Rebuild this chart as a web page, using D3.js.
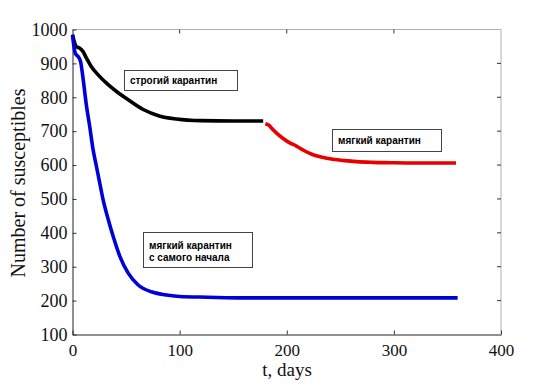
<!DOCTYPE html>
<html><head><meta charset="utf-8">
<script src="https://cdn.jsdelivr.net/npm/d3@7"></script>
<style>body{margin:0;background:#fff}svg{display:block}.tick text{font-family:'Liberation Serif','Times New Roman',serif}</style>
</head><body>
<svg id="c" width="554" height="385"></svg>
<script>
// Data
const strictT = [0,3.5,6.7,9.8,12.9,17.5,23.7,33,42,51,66,81,97,120,150,178];
const strictV = [985,950,945,935,916,891,867,838,815,795,764,745,736,731,730,730];
const softT = [0,2.6,5,7.5,9.8,12.9,16,19.3,22.4,25.5,28.6,33.3,38,44.3,52,61.3,73.7,86,100,126,160,220,300,359.5];
const softV = [984,930,921,906,857,778,715,644,595,546,497,440,389,330,281,246,226,217,212,210,208,208,208,208];
const lateT = [180,183,187,191,196,202,209,216,224,233,243,254,265,280,296,320,340,358];
const lateV = [722,718,705,693,680,667,656,643,631,623,617,613,610,608,607,606,606,606];
const xTicks = [0,100,200,300,400];
const yTicks = [100,200,300,400,500,600,700,800,900,1000];
const labels = [
  {lines:["строгий карантин"], x:124, y:70, w:113, h:20},
  {lines:["мягкий карантин"], x:332, y:129, w:109, h:22},
  {lines:["мягкий карантин","с самого начала"], x:143, y:232, w:109, h:35}
];

const svg = d3.select("#c");
const x = d3.scaleLinear().domain([0,400]).range([72.5,501]);
const y = d3.scaleLinear().domain([100,1000]).range([334.5,29.5]);
const serif = "'Liberation Serif','Times New Roman',serif";

// frame top/right
svg.append("line").attr("x1",x(0)).attr("x2",x(400)).attr("y1",y(1000)).attr("y2",y(1000)).attr("stroke","#b0b0b0");
svg.append("line").attr("x1",x(400)).attr("x2",x(400)).attr("y1",y(1000)).attr("y2",y(100)).attr("stroke","#b0b0b0");
// mirrored ticks
svg.append("g").selectAll("line").data(xTicks.slice(1,-1)).join("line")
  .attr("x1",d=>x(d)).attr("x2",d=>x(d)).attr("y1",y(1000)).attr("y2",y(1000)+4).attr("stroke","#333");
svg.append("g").selectAll("line").data(yTicks.slice(1,-1)).join("line")
  .attr("x1",x(400)).attr("x2",x(400)-4).attr("y1",d=>y(d)).attr("y2",d=>y(d)).attr("stroke","#333");

const gx = svg.append("g").attr("transform",`translate(0,${y(100)})`)
  .call(d3.axisBottom(x).tickValues(xTicks).tickFormat(d3.format("d")).tickSizeInner(-4).tickSizeOuter(0).tickPadding(9));
const gy = svg.append("g").attr("transform",`translate(${x(0)},0)`)
  .call(d3.axisLeft(y).tickValues(yTicks).tickFormat(d3.format("d")).tickSizeInner(-4).tickSizeOuter(0).tickPadding(5));
[gx,gy].forEach(g=>{
  g.attr("font-family",serif).attr("font-size",null);
  g.select(".domain").attr("stroke","#222");
  g.selectAll(".tick line").attr("stroke","#333");
  g.selectAll("text").attr("font-family",serif).style("font-family",serif).attr("fill","#111");
});
gx.selectAll("text").style("font-size","17px");
gy.selectAll("text").style("font-size","18px");

const line = d3.line().x(d=>x(d[0])).y(d=>y(d[1])).curve(d3.curveMonotoneX);
function draw(T,V,color){
  svg.append("path").datum(d3.zip(T,V)).attr("d",line)
    .attr("fill","none").attr("stroke",color).attr("stroke-width",3.6)
    .attr("stroke-linejoin","round").attr("stroke-linecap","butt");
}
draw(strictT,strictV,"#000");
draw(softT,softV,"#0000d8");
draw(lateT,lateV,"#e80000");

// label boxes
labels.forEach(l=>{
  svg.append("rect").attr("x",l.x+0.5).attr("y",l.y+0.5).attr("width",l.w).attr("height",l.h)
    .attr("fill","#fff").attr("stroke","#444").attr("stroke-width",1);
  l.lines.forEach((t,i)=>{
    svg.append("text").attr("x",l.x+6).attr("y",l.y+ (l.lines.length>1 ? 16.5+i*12 : l.h/2+4))
      .style("font-family","'Liberation Sans',Arial,sans-serif").style("font-weight","bold")
      .style("font-size","10px").attr("fill","#000").text(t);
  });
});

// axis titles
svg.append("text").attr("x",287).attr("y",376).attr("text-anchor","middle")
  .style("font-family",serif).style("font-size","19px").attr("fill","#111").text("t, days");
svg.append("text").attr("transform","translate(25,183) rotate(-90)").attr("text-anchor","middle")
  .style("font-family",serif).style("font-size","20px").attr("fill","#111").text("Number of susceptibles");
</script>
</body></html>
